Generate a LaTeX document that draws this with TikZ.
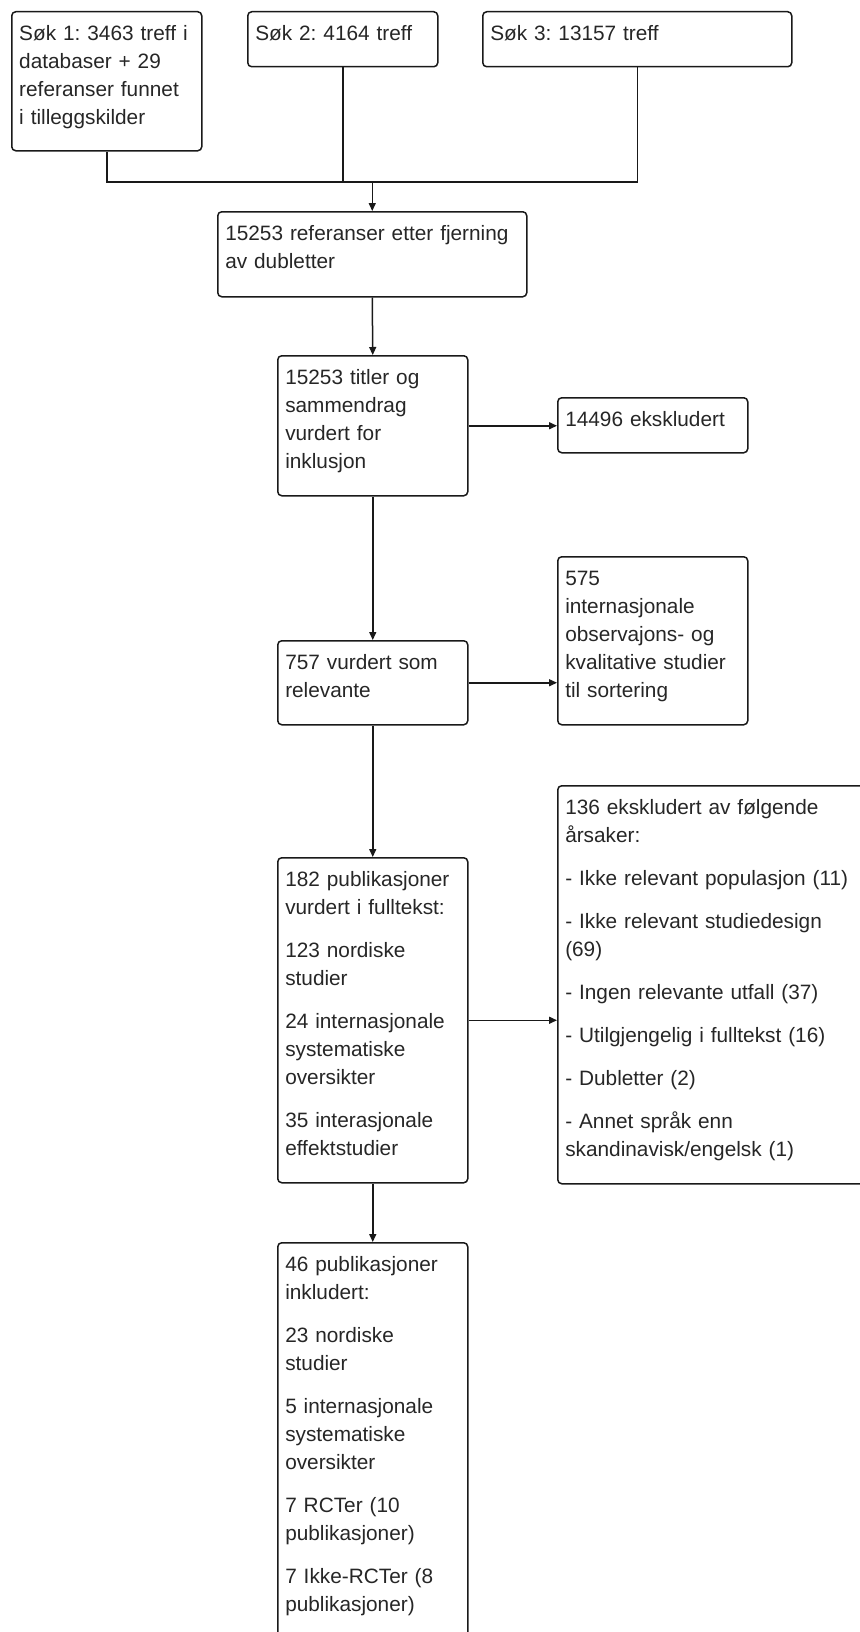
\documentclass[tikz,border=0pt]{standalone}
\usepackage{fontspec}
\setmainfont{Liberation Sans}
\usetikzlibrary{arrows.meta}
\begin{document}
\begin{tikzpicture}[x=0.5pt,y=-0.5pt,
  box/.style={draw=black!90,line width=0.75pt,rounded corners=2pt,anchor=north west,
    align=left,inner xsep=3.75pt,inner ysep=0pt,text height=14.5pt,
    font=\fontsize{10.4pt}{14pt}\selectfont\frenchspacing,text=black!85},
  narrow/.style={text width=87.5pt},
  wide/.style={text width=147pt},
  link/.style={draw=black!90,line width=0.75pt},
  arr/.style={link,-{Triangle[length=4pt,width=3.5pt]}}]
\useasboundingbox (0,0) rectangle (859,1632);

\node[box,narrow,text depth=55pt] (s1) at (11,11) {S\o k 1: 3463 treff i\\databaser + 29\\referanser funnet\\i tilleggskilder};
\node[box,narrow,text depth=13pt] (s2) at (247,11) {S\o k 2: 4164 treff};
\node[box,wide,text depth=13pt] (s3) at (482,11) {S\o k 3: 13157 treff};

\node[box,wide,text depth=28pt] (dedup) at (217,211) {15253 referanser etter fjerning\\av dubletter};
\node[box,narrow,text depth=55.5pt] (screen) at (277,355) {15253 titler og\\sammendrag\\vurdert for\\inklusjon};
\node[box,narrow,text depth=13pt] (excl1) at (557,397) {14496 ekskludert};
\node[box,narrow,text depth=27.5pt] (relevant) at (277,640) {757 vurdert som\\relevante};
\node[box,narrow,text depth=69.5pt] (sorting) at (557,556) {575\\internasjonale\\observajons- og\\kvalitative studier\\til sortering};

\node[box,narrow,text depth=148pt] (fulltext) at (277,857) {182 publikasjoner\\vurdert i fulltekst:\\[7.5pt]123 nordiske\\studier\\[7.5pt]24 internasjonale\\systematiske\\oversikter\\[7.5pt]35 interasjonale\\effektstudier};
\node[box,wide,text depth=184.5pt] (excl2) at (557,785) {136 ekskludert av f\o lgende\\\aa rsaker:\\[7.5pt]- Ikke relevant populasjon (11)\\[7.5pt]- Ikke relevant studiedesign\\(69)\\[7.5pt]- Ingen relevante utfall (37)\\[7.5pt]- Utilgjengelig i fulltekst (16)\\[7.5pt]- Dubletter (2)\\[7.5pt]- Annet spr\aa k enn\\skandinavisk/engelsk (1)};
\node[box,narrow,text depth=186pt] (incl) at (277,1242) {46 publikasjoner\\inkludert:\\[7.5pt]23 nordiske\\studier\\[7.5pt]5 internasjonale\\systematiske\\oversikter\\[7.5pt]7 RCTer (10\\publikasjoner)\\[7.5pt]7 Ikke-RCTer (8\\publikasjoner)};

\coordinate (join) at (dedup.north |- 0,182);
\draw[link] (s1.south) |- (join);
\draw[link] (s3.south) |- (join);
\draw[link] (s2.south) -- (s2.south |- join);
\draw[arr] (join) -- (dedup.north);

\draw[arr] (dedup.south) -- (screen.north);
\draw[arr] (screen.south) -- (relevant.north);
\draw[arr] (relevant.south) -- (fulltext.north);
\draw[arr] (fulltext.south) -- (incl.north);

\draw[arr] (screen.east) -- (screen.east -| excl1.west);
\draw[arr] (relevant.east) -- (relevant.east -| sorting.west);
\draw[arr] (fulltext.east) -- (fulltext.east -| excl2.west);
\end{tikzpicture}
\end{document}
